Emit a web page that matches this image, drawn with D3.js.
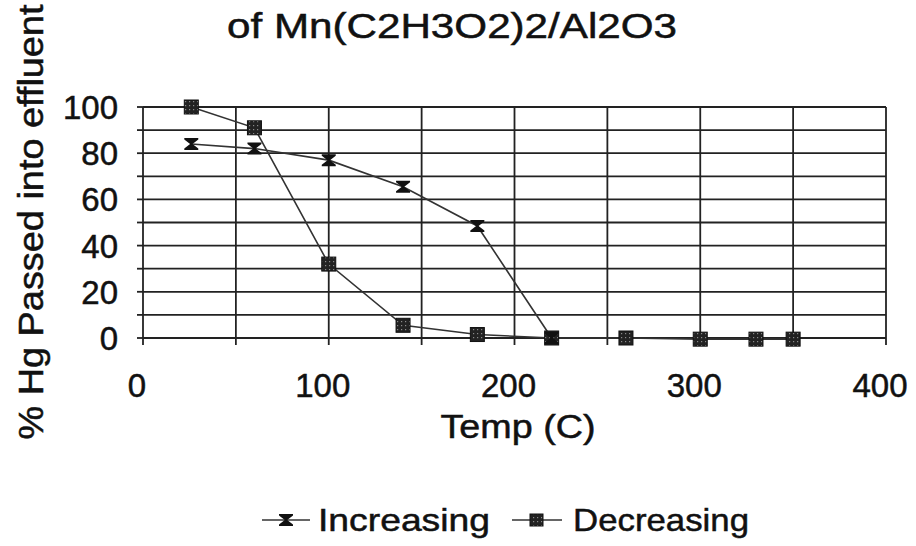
<!DOCTYPE html>
<html>
<head>
<meta charset="utf-8">
<script src="https://d3js.org/d3.v7.min.js"></script>
<style>
  body { margin: 0; background: #fff; }
  text { font-family: "Liberation Sans", Arial, sans-serif; fill: #111; stroke: #111; stroke-width: 0.5px; }
</style>
</head>
<body>
<div id="chart"></div>
<script>
// data
var incTemp = [26, 60, 100, 140, 180, 220];
var incVal  = [84, 82, 77, 65.5, 48.5, 0];
var decTemp = [26, 60, 100, 140, 180, 220, 260, 300, 330, 350];
var decVal  = [100, 91, 32, 5.5, 1.5, 0, 0, -0.5, -0.5, -0.5];
var xTicks = [0, 100, 200, 300, 400];
var yTicks = [0, 20, 40, 60, 80, 100];
var seriesNames = ["Increasing", "Decreasing"];

var width = 916, height = 546;
var plotL = 143, plotR = 886, plotT = 107, plotB = 338;

var svg = d3.select("#chart").append("svg")
  .attr("width", width).attr("height", height);

// speckled fill for the square markers
var pat = svg.append("defs").append("pattern")
  .attr("id", "speck").attr("width", 4).attr("height", 4)
  .attr("patternUnits", "userSpaceOnUse");
pat.append("rect").attr("width", 4).attr("height", 4).attr("fill", "#222");
pat.append("rect").attr("x", 1).attr("y", 1).attr("width", 1.2).attr("height", 1.2).attr("fill", "#8a8a8a");

var x = d3.scaleLinear().domain([0, 400]).range([plotL, plotR]);
var y = d3.scaleLinear().domain([0, 100]).range([plotB, plotT]);

// gridlines
svg.append("g").selectAll("line").data(d3.range(0, 101, 10)).join("line")
  .attr("x1", plotL).attr("x2", plotR)
  .attr("y1", d => y(d)).attr("y2", d => y(d))
  .attr("stroke", "#222").attr("stroke-width", 1.8);
svg.append("g").selectAll("line").data(d3.range(0, 401, 50)).join("line")
  .attr("x1", d => x(d)).attr("x2", d => x(d))
  .attr("y1", plotT).attr("y2", plotB + 7)
  .attr("stroke", "#222").attr("stroke-width", 1.8);

// y ticks
svg.append("g").selectAll("line").data(d3.range(0, 101, 10)).join("line")
  .attr("x1", plotL - 6).attr("x2", plotL)
  .attr("y1", d => y(d)).attr("y2", d => y(d))
  .attr("stroke", "#222").attr("stroke-width", 1.8);

svg.append("g").selectAll("text").data(yTicks).join("text")
  .attr("x", 118).attr("y", d => y(d) + 12)
  .attr("text-anchor", "end").attr("font-size", 33)
  .text(d => d);

svg.append("g").selectAll("text").data(xTicks).join("text")
  .attr("x", d => x(d) - 6).attr("y", 397)
  .attr("text-anchor", "middle").attr("font-size", 33)
  .text(d => d);

// titles
svg.append("text").attr("x", 452).attr("y", 38)
  .attr("text-anchor", "middle").attr("font-size", 35)
  .attr("textLength", 450).attr("lengthAdjust", "spacingAndGlyphs")
  .text("of Mn(C2H3O2)2/Al2O3");

svg.append("text").attr("x", 518).attr("y", 438)
  .attr("text-anchor", "middle").attr("font-size", 33)
  .attr("textLength", 155).attr("lengthAdjust", "spacingAndGlyphs")
  .text("Temp (C)");

svg.append("text")
  .attr("transform", "translate(43," + 222 + ") rotate(-90)")
  .attr("text-anchor", "middle").attr("font-size", 35)
  .attr("textLength", 435).attr("lengthAdjust", "spacingAndGlyphs")
  .text("% Hg Passed into effluent");

// lines
var line = d3.line().x(d => x(d[0])).y(d => y(d[1]));
var incData = incTemp.map((t, i) => [t, incVal[i]]);
var decData = decTemp.map((t, i) => [t, decVal[i]]);

svg.append("path").datum(decData).attr("d", line)
  .attr("fill", "none").attr("stroke", "#333").attr("stroke-width", 1.6);
svg.append("path").datum(incData).attr("d", line)
  .attr("fill", "none").attr("stroke", "#333").attr("stroke-width", 1.6);

// markers
var hourglass = "M-7,-6H7V-4.5L1.2,0L7,4.5V6H-7V4.5L-1.2,0L-7,-4.5Z";
svg.append("g").selectAll("rect").data(decData).join("rect")
  .attr("x", d => x(d[0]) - 7).attr("y", d => y(d[1]) - 7)
  .attr("width", 14).attr("height", 14)
  .attr("fill", "url(#speck)").attr("stroke", "#111").attr("stroke-width", 1);
svg.append("g").selectAll("path").data(incData).join("path")
  .attr("transform", d => "translate(" + x(d[0]) + "," + y(d[1]) + ")")
  .attr("d", hourglass).attr("fill", "#111");

// legend
var leg = svg.append("g");
leg.append("line").attr("x1", 262).attr("x2", 310).attr("y1", 520).attr("y2", 520)
  .attr("stroke", "#333").attr("stroke-width", 1.6);
leg.append("path").attr("transform", "translate(286,520)").attr("d", hourglass).attr("fill", "#111");
leg.append("text").attr("x", 318).attr("y", 531).attr("font-size", 32)
  .attr("textLength", 172).attr("lengthAdjust", "spacingAndGlyphs").text(seriesNames[0]);

leg.append("line").attr("x1", 512).attr("x2", 562).attr("y1", 520).attr("y2", 520)
  .attr("stroke", "#333").attr("stroke-width", 1.6);
leg.append("rect").attr("x", 530).attr("y", 514).attr("width", 13).attr("height", 12)
  .attr("fill", "url(#speck)").attr("stroke", "#111");
leg.append("text").attr("x", 573).attr("y", 531).attr("font-size", 32)
  .attr("textLength", 176).attr("lengthAdjust", "spacingAndGlyphs").text(seriesNames[1]);
</script>
</body>
</html>
